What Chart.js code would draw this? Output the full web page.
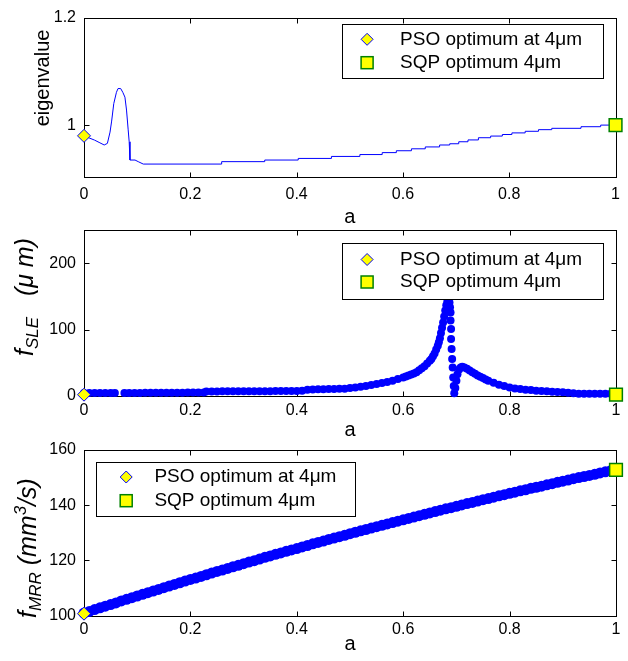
<!DOCTYPE html>
<html><head><meta charset="utf-8">
<script src="https://cdn.jsdelivr.net/npm/chart.js@4.4.0/dist/chart.umd.min.js"></script>
<style>
html,body{margin:0;padding:0;background:#fff;}
#wrap{position:relative;width:628px;height:661px;overflow:hidden;}
canvas{position:absolute;left:0;top:0;}
</style></head><body>
<div id="wrap">
<canvas id="c1" width="628" height="661"></canvas>
<canvas id="c2" width="628" height="661"></canvas>
<canvas id="c3" width="628" height="681"></canvas>
</div>
<script>
// ---------- data ----------
const xTicks = [0, 0.2, 0.4, 0.6, 0.8, 1];
const xTickLabels = ['0', '0.2', '0.4', '0.6', '0.8', '1'];
const eigTicks = [1, 1.2];
const eigTickLabels = ['1', '1.2'];
const sleTicks = [0, 100, 200];
const sleTickLabels = ['0', '100', '200'];
const mrrTicks = [100, 120, 140, 160];
const mrrTickLabels = ['100', '120', '140', '160'];
const legendLabels = ['PSO optimum at 4\u03bcm', 'SQP optimum 4\u03bcm'];

// eigenvalue vs a (line)
const eigA = [0, 0.01, 0.02, 0.03, 0.038, 0.044, 0.049, 0.052, 0.056, 0.061, 0.064, 0.069, 0.073, 0.077, 0.080, 0.083, 0.085, 0.0865, 0.096, 0.102, 0.1115,
  0.259, 0.259, 0.34, 0.34, 0.403, 0.403, 0.4655, 0.4655, 0.519, 0.519, 0.561, 0.561, 0.5876, 0.5876, 0.616, 0.616, 0.642, 0.642, 0.669, 0.669,
  0.688, 0.688, 0.705, 0.705, 0.7224, 0.7224, 0.742, 0.742, 0.765, 0.765, 0.787, 0.787, 0.805, 0.805, 0.83, 0.83, 0.855, 0.855, 0.88, 0.88,
  0.935, 0.935, 0.972, 0.972, 1];
const eigVal = [0.98, 0.976, 0.972, 0.967, 0.963, 0.966, 0.987, 1.0075, 1.04, 1.061, 1.068, 1.068, 1.061, 1.052, 1.028, 0.9925, 0.969, 0.935, 0.935, 0.932, 0.9275,
  0.9275, 0.932, 0.932, 0.935, 0.935, 0.938, 0.938, 0.9417, 0.9417, 0.9452, 0.9452, 0.9488, 0.9488, 0.9523, 0.9523, 0.9559, 0.9559, 0.9594, 0.9594, 0.963,
  0.963, 0.9653, 0.9653, 0.969, 0.969, 0.9724, 0.9724, 0.9765, 0.9765, 0.9796, 0.9796, 0.9825, 0.9825, 0.9855, 0.9855, 0.9885, 0.9885, 0.9915, 0.9915, 0.994,
  0.994, 0.997, 0.997, 1.0, 1.0];
const eigPSO = 0.98, eigSQP = 1.0;

// f_SLE vs a (dots)
const sleA = [0, 0.01, 0.02, 0.03, 0.04, 0.05, 0.058,
  0.076, 0.085, 0.095, 0.105, 0.115, 0.125, 0.135, 0.145, 0.155, 0.165, 0.175, 0.185, 0.195, 0.205, 0.215, 0.225,
  0.23, 0.24, 0.25, 0.26, 0.27, 0.28, 0.29, 0.30, 0.31, 0.32, 0.33, 0.34, 0.35, 0.36, 0.37, 0.38, 0.39, 0.40, 0.41,
  0.42, 0.43, 0.44, 0.45, 0.46, 0.47, 0.48, 0.49, 0.50, 0.51, 0.52, 0.53, 0.54, 0.55, 0.56, 0.57, 0.58, 0.59, 0.60,
  0.605, 0.61, 0.615, 0.62, 0.625, 0.63, 0.635, 0.64, 0.645, 0.65, 0.653, 0.656, 0.659, 0.662, 0.665, 0.667, 0.669,
  0.671, 0.673, 0.675, 0.677, 0.679, 0.681, 0.683, 0.685, 0.687, 0.688, 0.689, 0.689, 0.690, 0.690, 0.691, 0.692,
  0.693, 0.694, 0.695, 0.696, 0.698, 0.700, 0.702, 0.705, 0.708, 0.711, 0.715, 0.72, 0.725, 0.73, 0.735, 0.74, 0.745,
  0.75, 0.755, 0.76, 0.77, 0.78, 0.79, 0.80, 0.81, 0.82, 0.83, 0.84, 0.85, 0.86, 0.87, 0.88, 0.89, 0.90, 0.91, 0.92,
  0.93, 0.94, 0.95, 0.96, 0.97, 0.98, 0.99];
const sleVal = [4.5, 4.5, 4.6, 4.5, 4.6, 4.5, 4.5,
  4.6, 4.6, 4.7, 4.7, 4.8, 4.8, 4.8, 4.9, 4.9, 5.0, 5.0, 5.0, 5.1, 5.1, 5.2, 5.3,
  6.8, 6.9, 6.9, 7.0, 7.0, 7.0, 7.1, 7.1, 7.2, 7.2, 7.2, 7.3, 7.3, 7.4, 7.4, 7.5, 7.5, 7.6, 7.8,
  9.5, 9.8, 10.0, 10.2, 10.4, 10.6, 10.8, 11.0, 12.0, 13.0, 14.0, 15.0, 16.5, 18.0, 19.5, 21.0, 23.0, 25.5, 28.0,
  29.5, 31.0, 32.5, 34.0, 36.0, 39.0, 42.0, 45.0, 49.0, 53.0, 56.0, 60.0, 64.0, 70.0, 76.0, 81.0, 87.0,
  95.0, 103.0, 111.0, 120.0, 129.0, 137.0, 143.0, 145.0, 141.0, 134.0, 126.0, 114.0, 101.0, 86.0, 71.0, 56.0,
  43.0, 28.0, 15.0, 4.0, 12.0, 23.0, 33.0, 40.0, 43.0, 44.0, 43.0, 41.0, 38.5, 36.0, 33.5, 31.0, 29.0,
  27.0, 25.0, 23.0, 20.0, 17.0, 15.0, 13.0, 11.5, 10.5, 9.5, 9.0, 8.0, 7.5, 7.0, 6.5, 6.0, 5.5, 5.0, 4.0,
  3.5, 3.5, 3.5, 3.5, 3.5, 3.5, 3.5];
const slePSO = 2, sleSQP = 2;

// f_MRR vs a (dots)
const mrrA = [0, 0.01, 0.02, 0.03, 0.04, 0.05, 0.06, 0.07, 0.08, 0.09, 0.10, 0.11, 0.12, 0.13, 0.14, 0.15, 0.16, 0.17, 0.18, 0.19,
  0.20, 0.21, 0.22, 0.23, 0.24, 0.25, 0.26, 0.27, 0.28, 0.29, 0.30, 0.31, 0.32, 0.33, 0.34, 0.35, 0.36, 0.37, 0.38, 0.39,
  0.40, 0.41, 0.42, 0.43, 0.44, 0.45, 0.46, 0.47, 0.48, 0.49, 0.50, 0.51, 0.52, 0.53, 0.54, 0.55, 0.56, 0.57, 0.58, 0.59,
  0.60, 0.61, 0.62, 0.63, 0.64, 0.65, 0.66, 0.67, 0.68, 0.69, 0.70, 0.71, 0.72, 0.73, 0.74, 0.75, 0.76, 0.77, 0.78, 0.79,
  0.80, 0.81, 0.82, 0.83, 0.84, 0.85, 0.86, 0.87, 0.88, 0.89, 0.90, 0.91, 0.92, 0.93, 0.94, 0.95, 0.96, 0.97, 0.98, 0.99, 1.0];
const mrrVal = [100.9, 101.5, 102.2, 102.8, 103.4, 104.0, 104.6, 105.3, 105.9, 106.5, 107.1, 107.7, 108.3, 108.9, 109.5, 110.1, 110.7, 111.3, 111.9, 112.5,
  113.1, 113.6, 114.2, 114.8, 115.4, 116.0, 116.5, 117.1, 117.7, 118.2, 118.8, 119.4, 119.9, 120.5, 121.1, 121.6, 122.2, 122.7, 123.3, 123.8,
  124.3, 124.9, 125.4, 126.0, 126.5, 127.0, 127.6, 128.1, 128.6, 129.1, 129.7, 130.2, 130.7, 131.2, 131.7, 132.2, 132.7, 133.2, 133.7, 134.2,
  134.7, 135.2, 135.7, 136.2, 136.7, 137.2, 137.7, 138.2, 138.7, 139.1, 139.6, 140.1, 140.6, 141.0, 141.5, 142.0, 142.4, 142.9, 143.4, 143.8,
  144.3, 144.7, 145.2, 145.6, 146.1, 146.5, 146.9, 147.4, 147.8, 148.3, 148.7, 149.1, 149.6, 150.0, 150.4, 150.8, 151.2, 151.7, 152.1, 152.5, 152.9];
const mrrPSO = 100.7, mrrSQP = 152.8;

// ---------- drawing helpers ----------
const FONT = '"Liberation Sans", Arial, sans-serif';
const BLUE = '#0000ff', YEL = '#ffff00', GRN = '#008000';

function diamond(ctx, x, y, r) {
  ctx.beginPath(); ctx.moveTo(x, y - r); ctx.lineTo(x + r, y); ctx.lineTo(x, y + r); ctx.lineTo(x - r, y); ctx.closePath();
  ctx.fillStyle = YEL; ctx.fill(); ctx.strokeStyle = BLUE; ctx.lineWidth = 1; ctx.stroke();
}
function square(ctx, x, y, h) {
  ctx.fillStyle = YEL; ctx.fillRect(x - h, y - h, 2 * h, 2 * h);
  ctx.strokeStyle = GRN; ctx.lineWidth = 1.5; ctx.strokeRect(x - h, y - h, 2 * h, 2 * h);
}

const framePlugin = {
  id: 'frame',
  beforeDatasetsDraw(chart, args, o) {
    const { ctx, chartArea: a } = chart;
    const xs = chart.scales.x, ys = chart.scales.y;
    ctx.save();
    ctx.strokeStyle = '#000'; ctx.lineWidth = 1;
    const L = Math.round(a.left) + 0.5, R = Math.round(a.right) + 0.5, T = Math.round(a.top) + 0.5, B = Math.round(a.bottom) + 0.5;
    ctx.strokeRect(L, T, R - L, B - T);
    const tl = 5;
    ctx.beginPath();
    xs.ticks.forEach(t => {
      const px = Math.round(xs.getPixelForValue(t.value)) + 0.5;
      ctx.moveTo(px, B); ctx.lineTo(px, B - tl);
      ctx.moveTo(px, T); ctx.lineTo(px, T + tl);
    });
    ys.ticks.forEach(t => {
      const py = Math.round(ys.getPixelForValue(t.value)) + 0.5;
      ctx.moveTo(L, py); ctx.lineTo(L + tl, py);
      ctx.moveTo(R, py); ctx.lineTo(R - tl, py);
    });
    ctx.stroke();
    ctx.restore();
  },
  afterDraw(chart, args, o) {
    const { ctx, chartArea: a } = chart;
    ctx.save();
    // legend
    const g = o.legend;
    ctx.fillStyle = '#fff'; ctx.fillRect(g.x1, g.y1, g.x2 - g.x1, g.y2 - g.y1);
    ctx.strokeStyle = '#000'; ctx.lineWidth = 1;
    ctx.strokeRect(Math.round(g.x1) + 0.5, Math.round(g.y1) + 0.5, Math.round(g.x2 - g.x1), Math.round(g.y2 - g.y1));
    diamond(ctx, g.x1 + g.mdx, g.r1, 6);
    square(ctx, g.x1 + g.mdx, g.r2, 6);
    ctx.fillStyle = '#000'; ctx.font = '19px ' + FONT; ctx.textAlign = 'left'; ctx.textBaseline = 'middle';
    ctx.fillText(legendLabels[0], g.x1 + g.tdx, g.r1);
    ctx.fillText(legendLabels[1], g.x1 + g.tdx, g.r2);
    // x title
    ctx.font = '20px ' + FONT; ctx.textAlign = 'center'; ctx.textBaseline = 'alphabetic';
    ctx.fillText('a', (a.left + a.right) / 2, o.xTitleY);
    // y title (rich, rotated)
    const yt = o.yTitle;
    ctx.translate(yt.x, yt.cy);
    ctx.rotate(-Math.PI / 2);
    let total = 0;
    yt.parts.forEach(p => { ctx.font = p.font; p.w = ctx.measureText(p.t).width; total += p.w; });
    let cx = -total / 2;
    ctx.textAlign = 'left'; ctx.textBaseline = 'alphabetic';
    yt.parts.forEach(p => { ctx.font = p.font; ctx.fillText(p.t, cx, p.dy); cx += p.w; });
    ctx.restore();
  }
};

function xScale(pad, h) {
  return {
    type: 'linear', min: 0, max: 1,
    afterBuildTicks: s => { s.ticks = xTicks.map(v => ({ value: v })); },
    afterFit: s => { s.height = h; },
    grid: { display: false, drawTicks: false, tickLength: 0 }, border: { display: false },
    ticks: { autoSkip: false, maxRotation: 0, padding: pad, color: '#000', font: { family: FONT, size: 16 },
      callback: v => xTickLabels[xTicks.indexOf(v)] }
  };
}
function yScale(min, max, tv, tl) {
  return {
    type: 'linear', min: min, max: max,
    afterBuildTicks: s => { s.ticks = tv.map(v => ({ value: v })); },
    afterFit: s => { s.width = 84; },
    grid: { display: false, drawTicks: false, tickLength: 0 }, border: { display: false },
    ticks: { autoSkip: false, padding: 8, color: '#000', font: { family: FONT, size: 16 },
      callback: v => tl[tv.indexOf(v)] }
  };
}
function markerSets(psoY, sqpY) {
  return [
    { data: [{ x: 0, y: psoY }], pointStyle: 'rectRot', pointRadius: 6.5, backgroundColor: YEL, borderColor: BLUE, borderWidth: 1, clip: false },
    { data: [{ x: 1, y: sqpY }], pointStyle: 'rect', pointRadius: 9, backgroundColor: YEL, borderColor: GRN, borderWidth: 1.5, clip: false }
  ];
}
function pts(xa, ya) { return xa.map((v, i) => ({ x: v, y: ya[i] })); }

function baseOpts(pad, xs, ys, frame) {
  return {
    responsive: false, animation: false, events: [],
    layout: { padding: pad },
    scales: { x: xs, y: ys },
    plugins: { legend: { display: false }, tooltip: { enabled: false }, frame: frame }
  };
}

// Chart 1: eigenvalue
new Chart(document.getElementById('c1'), {
  type: 'scatter',
  data: { datasets: markerSets(eigPSO, eigSQP).concat([
    { data: pts(eigA, eigVal), showLine: true, pointRadius: 0, borderColor: BLUE, borderWidth: 1, tension: 0, clip: false }
  ]) },
  options: baseOpts({ left: 0, right: 12, top: 10, bottom: 661 - 176.7 - 50 },
    xScale(8, 50), yScale(0.904, 1.2, eigTicks, eigTickLabels),
    { legend: { x1: 341.6, y1: 24, x2: 602.6, y2: 78.3, r1: 39.3, r2: 62.7, mdx: 25.5, tdx: 58.5 },
      xTitleY: 223,
      yTitle: { x: 42, cy: 78, parts: [{ t: 'eigenvalue', font: '20px ' + FONT, dy: 7 }] } }),
  plugins: [framePlugin]
});

// Chart 2: f_SLE
new Chart(document.getElementById('c2'), {
  type: 'scatter',
  data: { datasets: markerSets(slePSO, sleSQP).concat([
    { data: pts(sleA, sleVal), pointRadius: 4, pointStyle: 'circle', backgroundColor: BLUE, borderWidth: 0, clip: false }
  ]) },
  options: baseOpts({ left: 0, right: 12, top: 230.3, bottom: 661 - 396 - 50 },
    xScale(5, 50), yScale(0, 250, sleTicks, sleTickLabels),
    { legend: { x1: 341.6, y1: 243.3, x2: 602.6, y2: 299, r1: 259.5, r2: 282, mdx: 25.5, tdx: 58.5 },
      xTitleY: 436,
      yTitle: { x: 33, cy: 297, parts: [
        { t: 'f', font: 'italic 25px ' + FONT, dy: 0 },
        { t: 'SLE', font: 'italic 17px ' + FONT, dy: 5 },
        { t: '   (\u03bc m)', font: 'italic 25px ' + FONT, dy: 0 }] } }),
  plugins: [framePlugin]
});

// Chart 3: f_MRR
new Chart(document.getElementById('c3'), {
  type: 'scatter',
  data: { datasets: markerSets(mrrPSO, mrrSQP).concat([
    { data: pts(mrrA, mrrVal), pointRadius: 5.5, pointStyle: 'circle', backgroundColor: BLUE, borderWidth: 0, clip: false }
  ]) },
  options: baseOpts({ left: 0, right: 12, top: 450, bottom: 681 - 615.6 - 50 },
    xScale(4, 50), yScale(100, 160, mrrTicks, mrrTickLabels),
    { legend: { x1: 96.2, y1: 462.3, x2: 355.6, y2: 516, r1: 477, r2: 500.7, mdx: 30, tdx: 58.2 },
      xTitleY: 650,
      yTitle: { x: 36, cy: 548, parts: [
        { t: 'f', font: 'italic 25px ' + FONT, dy: 0 },
        { t: 'MRR', font: 'italic 17px ' + FONT, dy: 5 },
        { t: ' (mm', font: 'italic 25px ' + FONT, dy: 0 },
        { t: '3', font: 'italic 17px ' + FONT, dy: -10 },
        { t: '/s)', font: 'italic 25px ' + FONT, dy: 0 }] } }),
  plugins: [framePlugin]
});
</script>
</body></html>
